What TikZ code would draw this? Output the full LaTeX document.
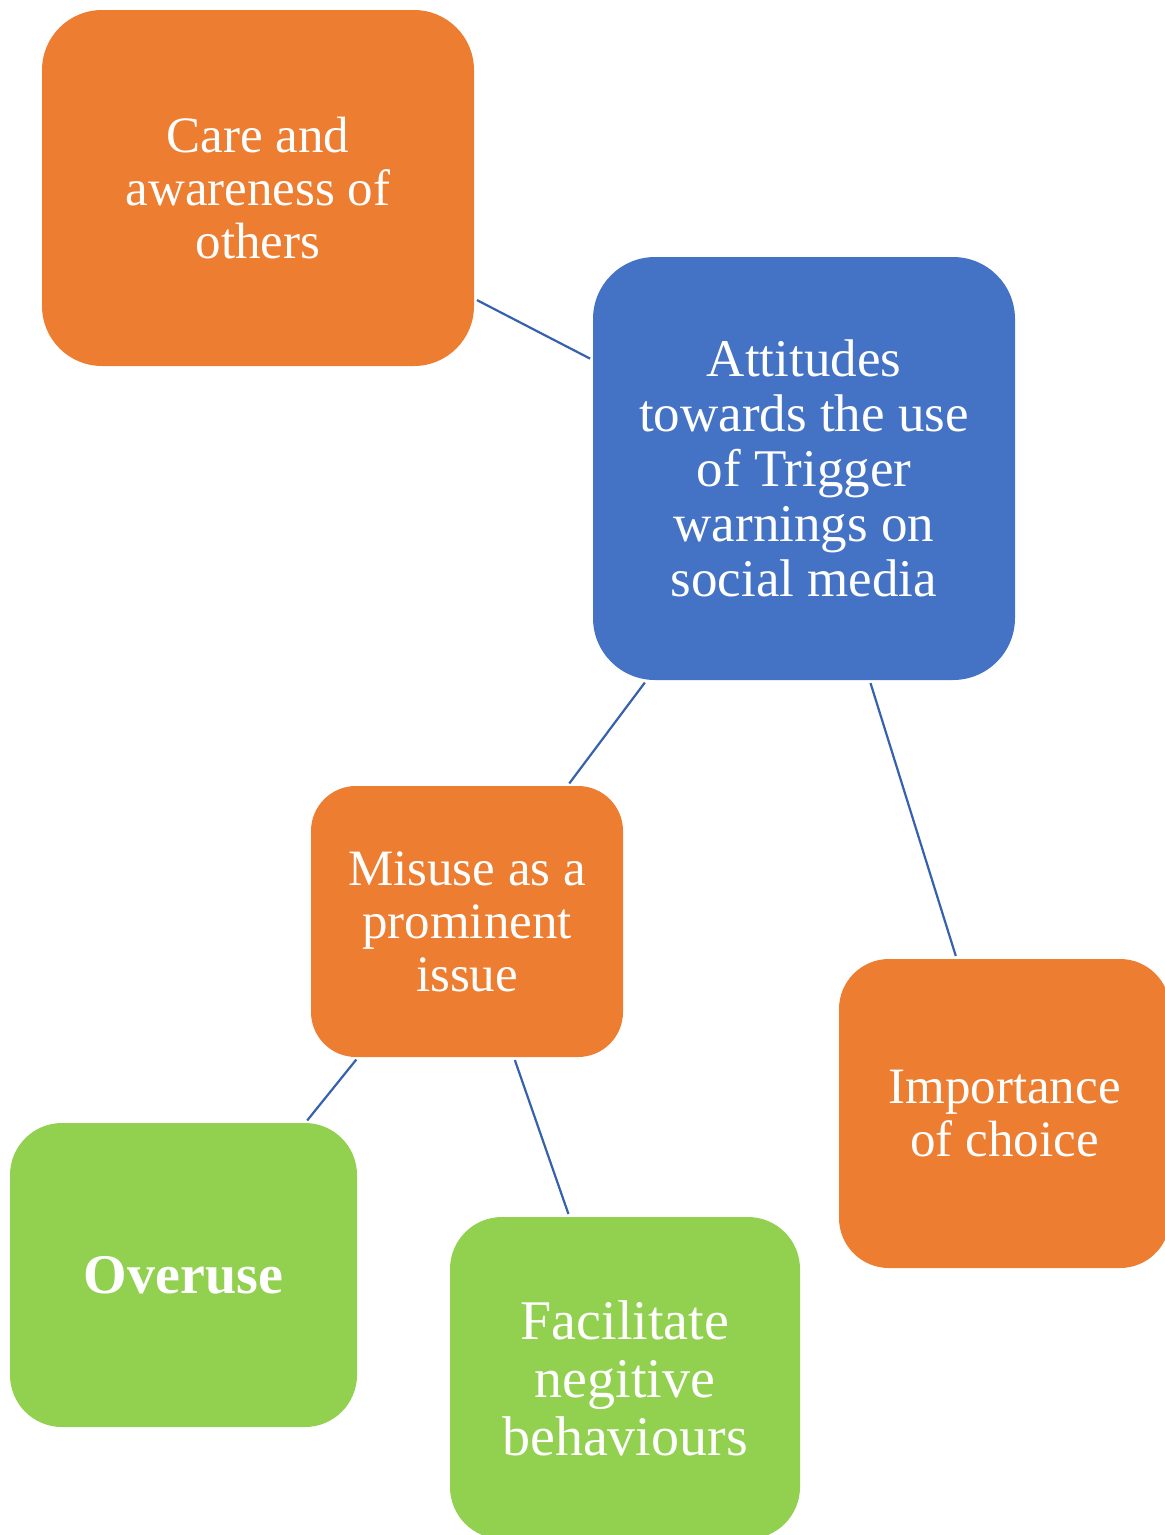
\documentclass[tikz,border=0pt]{standalone}
\usepackage{fontspec}
\setmainfont{Liberation Serif}
\definecolor{themeorange}{HTML}{ED7D31}
\definecolor{themeblue}{HTML}{4472C4}
\definecolor{themegreen}{HTML}{92D050}
\definecolor{linkblue}{HTML}{3561AE}
\begin{document}
\begin{tikzpicture}[x=1pt,y=-1pt,
  theme/.style={text=white,inner sep=0pt,align=center,font=\fontsize{51}{53}\selectfont},
  orangebox/.style={theme,fill=themeorange},
  bluebox/.style={theme,fill=themeblue,font=\fontsize{53}{55}\selectfont},
  greenbox/.style={theme,fill=themegreen,font=\fontsize{56}{58}\selectfont},
  link/.style={draw=linkblue,line width=2.2pt,shorten >=3pt,shorten <=3pt}]
\useasboundingbox (0,0) rectangle (1165,1535);
\clip (0,0) rectangle (1165,1535);
% theme boxes
\node[bluebox,minimum width=422pt,minimum height=423pt,rounded corners=62pt] (attitudes) at (804,468.5)
  {Attitudes\\towards the use\\of Trigger\\warnings on\\social media};
\node[orangebox,minimum width=432pt,minimum height=356pt,rounded corners=60pt] (care) at (258,188)
  {Care and\\awareness of\\others};
\node[orangebox,minimum width=312pt,minimum height=271pt,rounded corners=45pt] (misuse) at (467,921.5)
  {Misuse as a\\prominent\\issue};
\node[orangebox,minimum width=331pt,minimum height=309pt,rounded corners=50pt] (choice) at (1004.5,1113.5)
  {Importance\\of choice};
% sub-themes of misuse
\node[greenbox,minimum width=347pt,minimum height=304pt,rounded corners=52pt] (overuse) at (183.5,1275)
  {\bfseries Overuse};
\node[greenbox,minimum width=350pt,minimum height=322pt,rounded corners=52pt] (facilitate) at (625,1378)
  {Facilitate\\negitive\\behaviours};
% links
\draw[link] (care) -- (attitudes);
\draw[link] (attitudes) -- (misuse);
\draw[link] (attitudes) -- (choice);
\draw[link] (misuse) -- (overuse);
\draw[link] (misuse) -- (facilitate);
\end{tikzpicture}
\end{document}
